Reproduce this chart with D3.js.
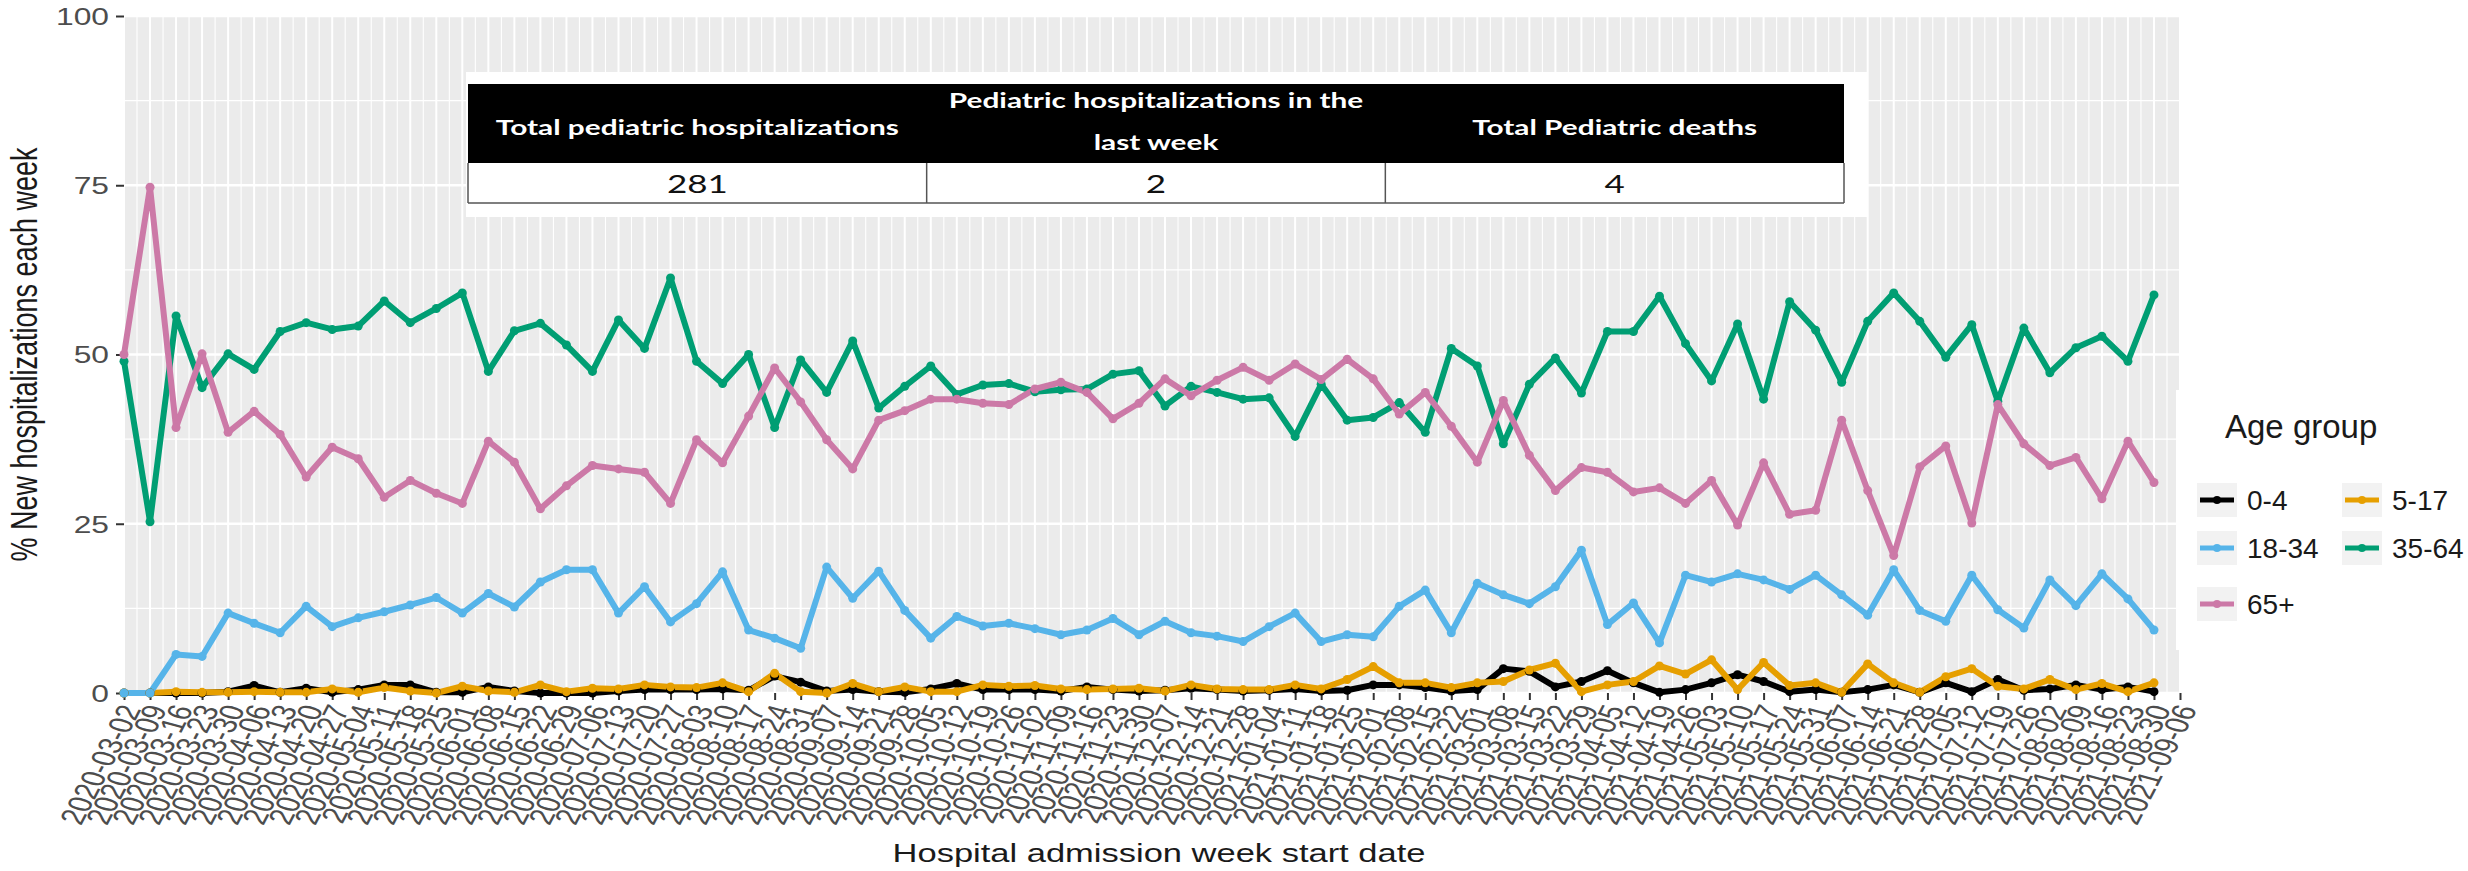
<!DOCTYPE html>
<html>
<head>
<meta charset="utf-8">
<script src="https://cdn.jsdelivr.net/npm/d3@7"></script>
<style>
  body { margin: 0; background: #fff; }
</style>
</head>
<body>
<div id="chart"></div>
<script>
// week start dates (x categories / tick labels)
var weeks = [
  "2020-03-02","2020-03-09","2020-03-16","2020-03-23","2020-03-30","2020-04-06","2020-04-13","2020-04-20",
  "2020-04-27","2020-05-04","2020-05-11","2020-05-18","2020-05-25","2020-06-01","2020-06-08","2020-06-15",
  "2020-06-22","2020-06-29","2020-07-06","2020-07-13","2020-07-20","2020-07-27","2020-08-03","2020-08-10",
  "2020-08-17","2020-08-24","2020-08-31","2020-09-07","2020-09-14","2020-09-21","2020-09-28","2020-10-05",
  "2020-10-12","2020-10-19","2020-10-26","2020-11-02","2020-11-09","2020-11-16","2020-11-23","2020-11-30",
  "2020-12-07","2020-12-14","2020-12-21","2020-12-28","2021-01-04","2021-01-11","2021-01-18","2021-01-25",
  "2021-02-01","2021-02-08","2021-02-15","2021-02-22","2021-03-01","2021-03-08","2021-03-15","2021-03-22",
  "2021-03-29","2021-04-05","2021-04-12","2021-04-19","2021-04-26","2021-05-03","2021-05-10","2021-05-17",
  "2021-05-24","2021-05-31","2021-06-07","2021-06-14","2021-06-21","2021-06-28","2021-07-05","2021-07-12",
  "2021-07-19","2021-07-26","2021-08-02","2021-08-09","2021-08-16","2021-08-23","2021-08-30","2021-09-06"
];

// % of new hospitalizations each week, by age group
var age0_4 = [0,0,0,0,0.2,1.1,0.1,0.7,0.1,0.5,
  1.2,1.2,0.1,0.1,0.9,0.3,0,0,0,0.3,
  0.5,0.5,0.5,0.6,0.4,2.5,1.6,0.3,0.5,0.2,
  0.1,0.6,1.4,0.5,0.5,0.5,0.3,0.9,0.5,0.3,
  0.4,0.7,0.5,0.3,0.4,0.6,0.3,0.4,1.2,1.2,
  0.8,0.3,0.5,3.6,3.2,0.9,1.7,3.3,1.5,0.1,
  0.5,1.5,2.7,1.7,0.2,0.5,0.1,0.5,1.2,0.1,
  1.5,0.2,2.0,0.4,0.6,1.2,0.5,0.9,0.2];
var age5_17 = [0,0,0.2,0.1,0.1,0.2,0.1,0.1,0.6,0.1,
  0.8,0.3,0,1.0,0.3,0.1,1.2,0.2,0.7,0.6,
  1.2,0.9,0.8,1.5,0.2,2.9,0.2,0,1.4,0.2,
  0.9,0.2,0.2,1.2,1.0,1.1,0.6,0.5,0.6,0.7,
  0.3,1.2,0.6,0.5,0.5,1.2,0.6,2.0,3.9,1.5,
  1.5,0.8,1.5,1.7,3.4,4.4,0.2,1.2,1.7,4.0,
  2.8,4.9,0.5,4.5,1.1,1.5,0.1,4.3,1.5,0.1,
  2.4,3.6,1.0,0.6,2.0,0.5,1.4,0.2,1.5];
var age18_34 = [0,0,5.7,5.4,11.8,10.3,8.9,12.8,9.8,11.1,
  12.0,13.0,14.1,11.8,14.7,12.7,16.4,18.2,18.2,11.8,
  15.7,10.5,13.2,17.9,9.3,8.1,6.6,18.6,14.0,18.0,
  12.2,8.1,11.3,9.9,10.3,9.5,8.6,9.3,11.0,8.6,
  10.6,8.9,8.4,7.6,9.8,11.8,7.6,8.6,8.3,12.8,
  15.2,8.9,16.2,14.5,13.2,15.7,21.1,10.1,13.3,7.4,
  17.4,16.4,17.6,16.7,15.3,17.4,14.5,11.5,18.2,12.2,
  10.6,17.4,12.3,9.6,16.7,12.9,17.6,13.9,9.3];
var age35_64 = [49.0,25.3,55.7,45.1,50.1,47.8,53.4,54.7,53.7,54.2,
  57.9,54.7,56.8,59.1,47.5,53.5,54.6,51.4,47.5,55.1,
  50.9,61.3,49.0,45.7,50.0,39.2,49.2,44.4,52.0,42.1,
  45.3,48.3,44.1,45.5,45.7,44.5,44.8,44.9,47.1,47.6,
  42.4,45.3,44.4,43.4,43.6,37.9,45.6,40.3,40.7,42.9,
  38.5,50.9,48.3,36.8,45.6,49.5,44.3,53.4,53.4,58.6,
  51.6,46.1,54.5,43.4,57.8,53.6,45.9,54.9,59.1,54.9,
  49.6,54.4,43.1,53.9,47.3,51.0,52.7,49.0,58.8];
var age65plus = [50.0,74.7,39.2,50.1,38.5,41.6,38.2,31.9,36.3,34.6,
  28.9,31.4,29.5,28.0,37.2,34.1,27.2,30.6,33.6,33.1,
  32.6,28.0,37.4,34.0,40.9,48.0,43.0,37.4,33.1,40.3,
  41.7,43.4,43.4,42.8,42.6,44.9,45.9,44.4,40.5,42.8,
  46.4,43.9,46.2,48.1,46.2,48.6,46.3,49.3,46.4,41.2,
  44.4,39.4,34.1,43.2,35.1,29.9,33.3,32.6,29.7,30.3,
  28.0,31.4,24.8,34.0,26.4,27.0,40.3,29.9,20.3,33.4,
  36.5,25.1,42.6,36.8,33.6,34.8,28.7,37.2,31.1];

var groups = ["0-4", "5-17", "18-34", "35-64", "65+"];
var groupColors = ["#000000", "#E69F00", "#56B4E9", "#009E73", "#CC79A7"];
var yTicks = [0, 25, 50, 75, 100];
var yMinor = [12.5, 37.5, 62.5, 87.5];

// summary table
var tableHeads = [["Total pediatric hospitalizations"], ["Pediatric hospitalizations in the", "last week"], ["Total Pediatric deaths"]];
var tableValues = ["281", "2", "4"];

var W = 2468, H = 871;
var plotL = 124, plotR = 2180, plotT = 16, plotB = 693;
var sx = 1.38; // source picture is stretched sideways

var series = [age0_4, age5_17, age18_34, age35_64, age65plus];

var svg = d3.select("#chart").append("svg")
    .attr("width", W)
    .attr("height", H)
    .style("font-family", "'Liberation Sans', Arial, sans-serif");

var x = d3.scalePoint().domain(weeks).range([plotL, plotR]);
var y = d3.scaleLinear().domain([0, 100]).range([plotB, plotT]);

// panel + grid
svg.append("rect")
    .attr("x", plotL).attr("y", plotT)
    .attr("width", plotR - plotL).attr("height", plotB - plotT)
    .attr("fill", "#EBEBEB");

var grid = svg.append("g").attr("stroke", "#fff");
grid.selectAll(".vminor").data(weeks.slice(0, -1)).join("line")
    .attr("x1", d => x(d) + x.step() / 2).attr("x2", d => x(d) + x.step() / 2)
    .attr("y1", plotT).attr("y2", plotB)
    .attr("stroke-width", 1.1);
grid.selectAll(".hminor").data(yMinor).join("line")
    .attr("x1", plotL).attr("x2", plotR)
    .attr("y1", d => y(d)).attr("y2", d => y(d))
    .attr("stroke-width", 1.2);
grid.selectAll(".vmajor").data(weeks).join("line")
    .attr("x1", d => x(d)).attr("x2", d => x(d))
    .attr("y1", plotT).attr("y2", plotB)
    .attr("stroke-width", 2);
grid.selectAll(".hmajor").data(yTicks).join("line")
    .attr("x1", plotL).attr("x2", plotR)
    .attr("y1", d => y(d)).attr("y2", d => y(d))
    .attr("stroke-width", 2.4);

// axes
var yAxis = svg.append("g")
    .attr("transform", "translate(" + plotL + ",0)")
    .call(d3.axisLeft(y).tickValues(yTicks).tickSize(8));
yAxis.select(".domain").remove();
yAxis.selectAll("line").attr("stroke", "#333").attr("stroke-width", 2);
yAxis.selectAll("text")
    .attr("x", 0).attr("dy", "0.36em")
    .attr("font-size", 23).attr("fill", "#4D4D4D")
    .attr("transform", "translate(-15,0) scale(" + sx + ",1)");

var xAxis = svg.append("g")
    .attr("transform", "translate(0," + plotB + ")")
    .call(d3.axisBottom(x).tickSize(7));
xAxis.select(".domain").remove();
xAxis.selectAll("line").attr("stroke", "#333").attr("stroke-width", 2);
xAxis.selectAll("text")
    .attr("x", 0).attr("y", 0).attr("dy", "0.35em")
    .attr("text-anchor", "end")
    .attr("font-size", 24.5).attr("fill", "#4D4D4D")
    .attr("transform", "translate(6,13) scale(" + sx + ",1) rotate(-69.5)");

// axis titles
svg.append("text")
    .attr("transform", "translate(1159,862) scale(" + sx + ",1)")
    .attr("text-anchor", "middle")
    .attr("font-size", 25)
    .attr("fill", "#1A1A1A")
    .text("Hospital admission week start date");

svg.append("text")
    .attr("transform", "translate(37," + ((plotT + plotB) / 2) + ") scale(" + sx + ",1) rotate(-90)")
    .attr("text-anchor", "middle")
    .attr("font-size", 27)
    .attr("fill", "#1A1A1A")
    .text("% New hospitalizations each week");

// lines and points
var line = d3.line()
    .x((d, i) => x(weeks[i]))
    .y(d => y(d));

svg.append("g").selectAll("path").data(series).join("path")
    .attr("d", line)
    .attr("fill", "none")
    .attr("stroke", (d, i) => groupColors[i])
    .attr("stroke-width", 6)
    .attr("stroke-linejoin", "round");

series.forEach(function(vals, k) {
  svg.append("g").selectAll("circle").data(vals).join("circle")
      .attr("cx", (d, i) => x(weeks[i]))
      .attr("cy", d => y(d))
      .attr("r", 4.5)
      .attr("fill", groupColors[k]);
});

// summary table
var tblX = 468, tblW = 1376, headTop = 84, headBot = 163, bodyBot = 203;
var colW = tblW / tableHeads.length;
svg.append("rect")
    .attr("x", 466).attr("y", 72).attr("width", 1402).attr("height", 145)
    .attr("fill", "#fff");
svg.append("rect")
    .attr("x", tblX).attr("y", headTop).attr("width", tblW).attr("height", headBot - headTop)
    .attr("fill", "#000");
var tbl = svg.append("g").style("font-family", "Lato, 'Open Sans', sans-serif");
tableHeads.forEach(function(lines, c) {
  var cx = tblX + colW * (c + 0.5);
  var baselines = lines.length === 1 ? [135] : [108, 150];
  lines.forEach(function(t, j) {
    tbl.append("text")
        .attr("transform", "translate(" + cx + "," + baselines[j] + ") scale(1.42,1)")
        .attr("text-anchor", "middle")
        .attr("font-size", 21)
        .attr("font-weight", "bold")
        .attr("fill", "#fff")
        .text(t);
  });
  tbl.append("text")
      .attr("transform", "translate(" + cx + ",193) scale(1.4,1)")
      .attr("text-anchor", "middle")
      .attr("font-size", 25)
      .attr("fill", "#111")
      .text(tableValues[c]);
});
var borders = tbl.append("g").attr("stroke", "#555").attr("stroke-width", 1.5);
d3.range(tableHeads.length + 1).forEach(function(c) {
  borders.append("line")
      .attr("x1", tblX + colW * c).attr("x2", tblX + colW * c)
      .attr("y1", headBot).attr("y2", bodyBot);
});
borders.append("line")
    .attr("x1", tblX).attr("x2", tblX + tblW)
    .attr("y1", bodyBot).attr("y2", bodyBot);

// legend
var lg = svg.append("g");
lg.append("rect")
    .attr("x", 2176).attr("y", 390).attr("width", W - 2176).attr("height", 260)
    .attr("fill", "#fff");
lg.append("text")
    .attr("x", 2225).attr("y", 438)
    .attr("font-size", 33)
    .attr("fill", "#1A1A1A")
    .text("Age group");

var keyPos = [[2197, 500], [2342, 500], [2197, 548], [2342, 548], [2197, 604]];
groups.forEach(function(g, i) {
  var kx = keyPos[i][0], ky = keyPos[i][1];
  lg.append("rect")
      .attr("x", kx).attr("y", ky - 17).attr("width", 40).attr("height", 34)
      .attr("fill", "#F2F2F2");
  lg.append("line")
      .attr("x1", kx + 3).attr("x2", kx + 37)
      .attr("y1", ky).attr("y2", ky)
      .attr("stroke", groupColors[i]).attr("stroke-width", 5);
  lg.append("circle")
      .attr("cx", kx + 20).attr("cy", ky).attr("r", 4)
      .attr("fill", groupColors[i]);
  lg.append("text")
      .attr("x", kx + 50).attr("y", ky)
      .attr("dy", "0.36em")
      .attr("font-size", 28)
      .attr("fill", "#1A1A1A")
      .text(g);
});
</script>
</body>
</html>
